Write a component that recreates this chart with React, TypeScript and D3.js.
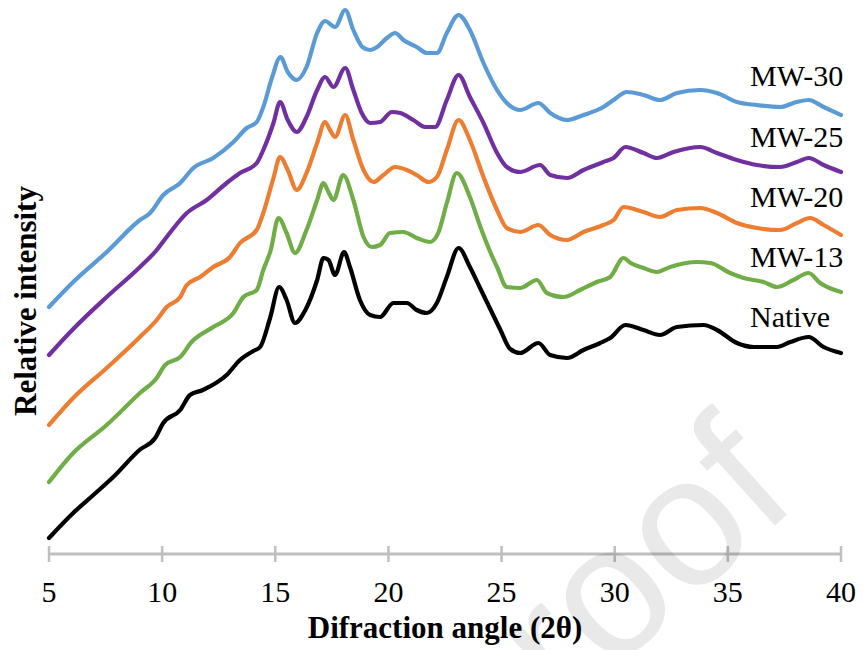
import React from "react";
import * as d3 from "d3";

// 2θ (degrees) and relative intensity (a.u.)
const nativeData: [number, number][] = [
  [5.0, 16], [6.07, 41], [6.96, 59], [7.84, 77], [9.0, 104], [9.69, 116], [10.05, 131], [10.8, 144],
  [11.23, 159], [11.8, 164], [12.85, 179], [13.44, 194], [14.03, 203], [14.33, 207], [14.77, 236],
  [15.17, 267], [15.5, 254], [15.87, 231], [16.33, 244], [16.85, 274], [17.13, 296], [17.35, 294],
  [17.64, 279], [18.04, 302], [18.3, 287], [18.74, 254], [19.19, 239], [19.63, 237], [20.22, 251],
  [20.81, 251], [21.25, 244], [21.7, 241], [22.14, 251], [22.58, 277], [23.1, 306], [23.6, 287],
  [24.05, 266], [24.5, 245], [24.95, 224], [25.38, 205], [25.82, 201], [26.63, 211], [27.15, 199],
  [27.89, 196], [28.62, 204], [29.36, 211], [29.8, 216], [30.47, 229], [31.27, 224], [32.0, 219],
  [32.75, 227], [33.93, 229], [34.52, 224], [35.4, 211], [36.14, 207], [37.17, 207], [37.76, 212],
  [38.57, 217], [39.23, 207], [40.0, 201],
];

const mw13Data: [number, number][] = [
  [5.0, 72], [6.07, 101], [7.55, 129], [9.02, 161], [9.76, 176], [10.13, 189], [10.8, 197], [11.3, 212],
  [12.26, 227], [13.15, 241], [13.59, 257], [14.18, 264], [14.47, 284], [14.8, 304], [15.14, 336],
  [15.5, 321], [15.87, 301], [16.38, 324], [16.85, 354], [17.13, 371], [17.35, 362], [17.57, 354],
  [18.0, 379], [18.45, 354], [18.9, 317], [19.26, 307], [19.63, 309], [20.07, 321], [20.66, 322],
  [21.25, 316], [21.84, 312], [22.2, 321], [22.58, 351], [23.02, 381], [23.6, 357], [24.05, 328],
  [24.5, 302], [24.8, 287], [25.23, 267], [25.82, 266], [26.56, 274], [27.0, 261], [27.74, 257],
  [28.47, 264], [29.21, 272], [29.8, 277], [30.39, 296], [30.7, 291], [31.27, 286], [31.86, 282],
  [32.45, 287], [33.63, 292], [34.22, 291], [35.1, 281], [35.7, 276], [36.58, 272], [37.17, 267],
  [37.9, 274], [38.57, 281], [39.08, 271], [40.0, 262],
];

const mw20Data: [number, number][] = [
  [5.0, 129], [6.07, 156], [7.55, 186], [9.02, 217], [9.76, 234], [10.2, 247], [10.8, 257], [11.09, 269],
  [11.68, 277], [12.26, 287], [13.0, 297], [13.44, 311], [14.18, 324], [14.47, 341], [14.92, 376],
  [15.21, 397], [15.55, 384], [15.95, 364], [16.38, 381], [16.85, 411], [17.2, 432], [17.42, 424],
  [17.64, 417], [18.09, 439], [18.45, 414], [18.9, 384], [19.34, 372], [19.78, 379], [20.3, 387],
  [20.81, 384], [21.25, 379], [21.77, 372], [22.14, 377], [22.58, 404], [23.1, 434], [23.6, 414],
  [24.2, 377], [24.8, 344], [25.23, 326], [25.82, 322], [26.63, 329], [27.15, 319], [27.89, 314],
  [28.62, 322], [29.5, 329], [29.95, 334], [30.39, 347], [31.27, 342], [32.0, 337], [32.75, 344],
  [33.78, 346], [34.52, 341], [35.4, 331], [36.28, 326], [37.31, 324], [38.05, 331], [38.64, 336],
  [39.23, 329], [40.0, 319],
];

const mw25Data: [number, number][] = [
  [5.0, 199], [6.07, 225], [7.55, 257], [9.02, 287], [9.76, 304], [10.2, 317], [11.09, 341], [11.97, 354],
  [12.85, 371], [13.44, 381], [14.18, 391], [14.47, 404], [14.92, 431], [15.21, 452], [15.55, 434],
  [15.95, 422], [16.38, 437], [16.85, 464], [17.2, 477], [17.57, 467], [18.09, 486], [18.45, 464],
  [18.82, 441], [19.19, 431], [19.63, 432], [20.15, 442], [20.52, 441], [21.1, 434], [21.62, 427],
  [22.06, 427], [22.58, 454], [23.1, 479], [23.6, 457], [24.2, 431], [24.8, 401], [25.23, 387],
  [25.82, 382], [26.7, 389], [27.15, 379], [27.89, 376], [28.62, 384], [29.5, 392], [29.95, 396],
  [30.47, 407], [31.27, 401], [31.86, 396], [32.6, 402], [33.78, 407], [34.52, 401], [35.4, 394],
  [36.28, 389], [37.31, 387], [38.05, 392], [38.57, 396], [39.23, 389], [40.0, 382],
];

const mw30Data: [number, number][] = [
  [5.0, 247], [6.07, 272], [7.55, 302], [9.02, 334], [9.47, 341], [10.05, 359], [10.8, 371], [11.38, 386],
  [12.26, 396], [13.15, 412], [13.74, 426], [14.18, 432], [14.47, 447], [14.85, 476], [15.23, 497],
  [15.55, 482], [15.95, 474], [16.38, 487], [16.85, 521], [17.2, 533], [17.64, 527], [18.09, 544],
  [18.45, 524], [18.85, 507], [19.19, 504], [19.5, 507], [19.93, 516], [20.3, 521], [20.66, 514],
  [21.25, 507], [21.7, 501], [22.14, 501], [22.58, 521], [23.1, 539], [23.6, 524], [24.2, 491],
  [24.8, 464], [25.23, 451], [25.82, 444], [26.63, 451], [27.15, 441], [27.89, 434], [28.62, 439],
  [29.5, 447], [29.95, 454], [30.54, 462], [31.27, 459], [32.0, 454], [32.75, 461], [33.78, 464],
  [34.52, 461], [35.4, 452], [36.28, 449], [37.31, 447], [38.05, 452], [38.57, 454], [39.23, 447],
  [40.0, 439],
];

const seriesNames = ["Native", "MW-13", "MW-20", "MW-25", "MW-30"];
const seriesColors = ["#000000", "#70ad47", "#ed7d31", "#7030a0", "#5b9bd5"];
const seriesData = [nativeData, mw13Data, mw20Data, mw25Data, mw30Data];
const labelBaselines = [327, 267, 207, 147, 86];
const xTicks = [5, 10, 15, 20, 25, 30, 35, 40];

const W = 863;
const H = 650;

export default function App() {
  const x = d3.scaleLinear().domain([5, 40]).range([49, 841]);
  const y = d3.scaleLinear().domain([0, 554]).range([554, 0]);
  const line = d3
    .line<[number, number]>()
    .x((d) => x(d[0]))
    .y((d) => y(d[1]))
    .curve(d3.curveMonotoneX);
  const axisY = y(0);
  const serif = "'Liberation Serif', 'Times New Roman', serif";

  return (
    <div style={{ position: "absolute", left: 0, top: 0, width: W, height: H, background: "#fff" }}>
      <svg width={W} height={H} style={{ display: "block" }}>
        <rect width={W} height={H} fill="#ffffff" />
        {/* x axis */}
        <line x1={x(5)} x2={x(40)} y1={axisY} y2={axisY} stroke="#bfbfbf" strokeWidth={3} />
        {xTicks.map((t) => (
          <g key={t}>
            <line x1={x(t)} x2={x(t)} y1={axisY - 8} y2={axisY + 8} stroke="#bfbfbf" strokeWidth={2.5} />
            <text x={x(t)} y={602} textAnchor="middle" fontFamily={serif} fontSize={30} fill="#000">
              {t}
            </text>
          </g>
        ))}
        {/* series */}
        {seriesData.map((d, i) => (
          <path
            key={seriesNames[i]}
            d={line(d) || ""}
            fill="none"
            stroke={seriesColors[i]}
            strokeWidth={4.2}
            strokeLinejoin="round"
            strokeLinecap="round"
          />
        ))}
        {seriesNames.map((n, i) => (
          <text key={n} x={750} y={labelBaselines[i]} fontFamily={serif} fontSize={30} fill="#000">
            {n}
          </text>
        ))}
        {/* axis titles */}
        <text x={445} y={638} textAnchor="middle" fontFamily={serif} fontSize={31} fontWeight="bold" fill="#000">
          Difraction angle (2θ)
        </text>
        <text
          transform={`translate(36,301) rotate(-90)`}
          textAnchor="middle"
          fontFamily={serif}
          fontSize={31}
          fontWeight="bold"
          fill="#000"
        >
          Relative intensity
        </text>
        {/* watermark */}
        <text
          transform="translate(801,502) rotate(-42)"
          textAnchor="end"
          fontFamily="'Liberation Sans', Arial, sans-serif"
          fontSize={185}
          fill="#000"
          fillOpacity={0.085}
        >
          Journal Pre-proof
        </text>
      </svg>
    </div>
  );
}
